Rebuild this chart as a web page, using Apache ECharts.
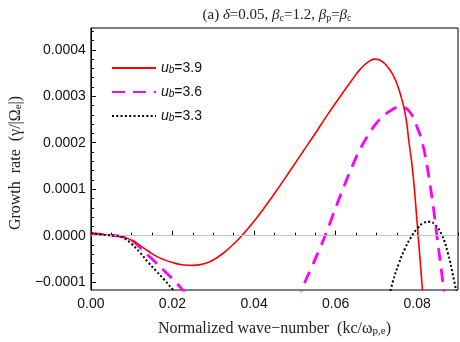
<!DOCTYPE html>
<html>
<head>
<meta charset="UTF-8">
<title>Growth rate vs wave-number</title>
<script src="https://cdn.jsdelivr.net/npm/echarts@6/dist/echarts.min.js"></script>
<style>
  html, body { margin: 0; padding: 0; background: #fff; }
  #chart { width: 460px; height: 342px; }
</style>
</head>
<body>
<div id="chart"></div>
<script>
// growth rate is kept in units of 1e-4 (labels are rescaled)
var redK = [0, 0.002, 0.004, 0.006, 0.008, 0.010, 0.012, 0.014, 0.016, 0.018, 0.020, 0.022, 0.025, 0.028, 0.031, 0.034,
            0.037, 0.040, 0.043, 0.046, 0.049, 0.052, 0.055, 0.058, 0.061, 0.064, 0.066, 0.068, 0.0695, 0.071, 0.0725,
            0.074, 0.0755, 0.077, 0.078, 0.079, 0.080, 0.081, 0.082];
var redG = [0.05, 0.03, 0.01, 0.0, -0.03, -0.10, -0.21, -0.33, -0.44, -0.52, -0.58, -0.62, -0.64, -0.60, -0.47, -0.26,
            0.0, 0.31, 0.66, 1.03, 1.42, 1.81, 2.2, 2.6, 2.98, 3.35, 3.58, 3.74, 3.8, 3.77, 3.66,
            3.47, 3.15, 2.65, 2.0, 1.3, 0.25, -0.85, -2.0];

var magK = [0, 0.002, 0.004, 0.006, 0.008, 0.010, 0.012, 0.014, 0.016, 0.018, 0.020, 0.022, 0.024, 0.037,
            0.0505, 0.052, 0.054, 0.056, 0.058, 0.060, 0.062, 0.064, 0.066, 0.068, 0.070, 0.072, 0.074, 0.0755,
            0.077, 0.078, 0.079, 0.080, 0.081, 0.082, 0.083, 0.084, 0.085, 0.086, 0.087];
var magG = [0.05, 0.03, 0.01, 0.0, -0.03, -0.10, -0.25, -0.42, -0.59, -0.76, -0.93, -1.12, -1.32, null,
            -1.45, -1.1, -0.7, -0.3, 0.13, 0.6, 1.05, 1.48, 1.86, 2.17, 2.42, 2.6, 2.72, 2.77,
            2.75, 2.68, 2.55, 2.33, 2.08, 1.7, 1.18, 0.58, -0.12, -0.8, -1.6];

var blkK = [0, 0.002, 0.004, 0.006, 0.008, 0.010, 0.012, 0.014, 0.016, 0.018, 0.020, 0.022, 0.05,
            0.0725, 0.074, 0.0755, 0.077, 0.0785, 0.080, 0.0815, 0.083, 0.0845, 0.086, 0.0875, 0.089, 0.0905];
var blkG = [0.05, 0.03, 0.01, 0.0, -0.05, -0.18, -0.36, -0.57, -0.76, -0.95, -1.15, -1.35, null,
            -1.55, -1.0, -0.6, -0.28, -0.03, 0.15, 0.27, 0.30, 0.22, 0.02, -0.37, -0.95, -1.6];

var names = ['u_b=3.9', 'u_b=3.6', 'u_b=3.3'];
var xTicks = [0, 0.02, 0.04, 0.06, 0.08];
var yTicks = [-1, 0, 1, 2, 3, 4];

var xMinor = [];
for (var i = 0; i <= 18; i++) xMinor.push(+(i * 0.005).toFixed(3));
var yMinor = [];
for (var j = -5; j <= 22; j++) yMinor.push(+(j * 0.2).toFixed(1));

function pairs(k, g) {
    var out = [];
    for (var i = 0; i < k.length; i++) out.push([k[i], g[i] === null ? '-' : g[i]]);
    return out;
}

var serif = 'Liberation Serif';
var sans = 'Liberation Sans';

var chart = echarts.init(document.getElementById('chart'));
var option = {
    animation: false,
    title: {
        text: '(a) {i|δ}=0.05, {i|β}{s|c}=1.2, {i|β}{s|p}={i|β}{s|c}',
        left: 272,
        textAlign: 'center',
        top: 3,
        textStyle: {
            fontFamily: serif, fontSize: 15, fontWeight: 'normal', color: '#222',
            rich: {
                i: { fontFamily: serif, fontSize: 15, fontStyle: 'italic', color: '#222' },
                s: { fontFamily: serif, fontSize: 10, color: '#222', verticalAlign: 'bottom' }
            }
        }
    },
    legend: {
        orient: 'vertical',
        left: 111,
        top: 61,
        padding: 0,
        itemWidth: 44,
        itemHeight: 14,
        itemGap: 10,
        itemStyle: { opacity: 0 },
        data: names,
        formatter: function (n) {
            return '{u|u}{b|b}{t|' + n.slice(3) + '}';
        },
        textStyle: {
            fontFamily: sans, fontSize: 14, color: '#111',
            rich: {
                u: { fontFamily: sans, fontSize: 14, fontStyle: 'italic', color: '#111' },
                b: { fontFamily: sans, fontSize: 10, fontStyle: 'italic', color: '#111', verticalAlign: 'bottom' },
                t: { fontFamily: sans, fontSize: 14, color: '#111' }
            }
        }
    },
    grid: {
        left: 82, right: 2, top: 28, bottom: 51,
        show: true, borderColor: '#000', borderWidth: 1
    },
    xAxis: [{
        type: 'value', min: 0, max: 0.09,
        axisLine: { show: true, lineStyle: { color: '#000' } },
        axisTick: { inside: true, length: 5, customValues: xTicks, lineStyle: { color: '#000' } },
        axisLabel: {
            customValues: xTicks, margin: 7,
            formatter: function (v) { return v.toFixed(2); },
            fontFamily: sans, fontSize: 14, color: '#111'
        },
        splitLine: { show: false },
        name: 'Normalized wave\u2212number  (kc/ω{s|p,e})',
        nameLocation: 'middle',
        nameGap: 31,
        nameTextStyle: {
            fontFamily: serif, fontSize: 16, color: '#222',
            rich: { s: { fontFamily: serif, fontSize: 11, color: '#222', verticalAlign: 'bottom' } }
        }
    }, {
        type: 'value', min: 0, max: 0.09, position: 'bottom',
        axisLine: { show: false },
        axisTick: { inside: true, length: 3, customValues: xMinor, lineStyle: { color: '#000' } },
        axisLabel: { show: false },
        splitLine: { show: false }
    }],
    yAxis: [{
        type: 'value', min: -1.17, max: 4.47,
        axisLine: { show: true, lineStyle: { color: '#000' } },
        axisTick: { inside: true, length: 5, customValues: yTicks, lineStyle: { color: '#000' } },
        axisLabel: {
            customValues: yTicks, margin: 5,
            formatter: function (v) {
                var s = (Math.abs(v) / 10000).toFixed(4);
                return v < 0 ? '\u2212' + s : s;
            },
            fontFamily: sans, fontSize: 14, color: '#111'
        },
        splitLine: { show: false },
        name: 'Growth  rate  (γ/|Ω{s|e}|)',
        nameLocation: 'middle',
        nameGap: 61,
        nameTextStyle: {
            fontFamily: serif, fontSize: 16, color: '#222',
            padding: [0, 8, 0, 0],
            rich: { s: { fontFamily: serif, fontSize: 11, color: '#222', verticalAlign: 'bottom' } }
        }
    }, {
        type: 'value', min: -1.17, max: 4.47, position: 'left',
        axisLine: { show: false },
        axisTick: { inside: true, length: 3, customValues: yMinor, lineStyle: { color: '#000' } },
        axisLabel: { show: false },
        splitLine: { show: false }
    }],
    series: [{
        name: names[0], type: 'line', smooth: 0.5, symbol: 'none',
        data: pairs(redK, redG),
        lineStyle: { color: '#ff0000', width: 1.6 },
        itemStyle: { color: '#ff0000' },
        z: 4,
        markLine: {
            silent: true, symbol: 'none', label: { show: false },
            lineStyle: { color: '#c4c4c4', type: 'solid', width: 1 },
            data: [{ yAxis: 0 }]
        }
    }, {
        name: names[1], type: 'line', smooth: 0.5, symbol: 'none',
        data: pairs(magK, magG),
        lineStyle: { color: '#ff00ff', width: 2.8, type: [13, 8] },
        itemStyle: { color: '#ff00ff' },
        z: 3
    }, {
        name: names[2], type: 'line', smooth: 0.5, symbol: 'none',
        data: pairs(blkK, blkG),
        lineStyle: { color: '#000', width: 2, type: [2, 2.3] },
        itemStyle: { color: '#000' },
        z: 5
    }]
};
chart.setOption(option);
</script>
</body>
</html>
